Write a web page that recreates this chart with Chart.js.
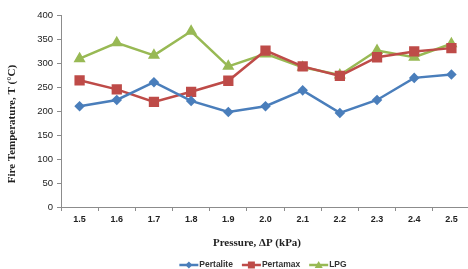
<!DOCTYPE html>
<html>
<head>
<meta charset="utf-8">
<script src="https://cdn.jsdelivr.net/npm/chart.js@4/dist/chart.umd.min.js"></script>
<style>
  html, body { margin: 0; padding: 0; overflow: hidden; background: #fff; }
  #wrap { width: 478px; height: 269px; }
</style>
</head>
<body>
<div id="wrap"><canvas id="chart"></canvas></div>
<script>
// Data
const pressures = ['1.5', '1.6', '1.7', '1.8', '1.9', '2.0', '2.1', '2.2', '2.3', '2.4', '2.5'];
const pertalite = [210, 223, 260, 221, 198, 210, 243, 196, 223, 269, 276];
const pertamax  = [264, 245, 219, 240, 263, 326, 293, 273, 312, 324, 331];
const lpg       = [309, 342, 316, 366, 293, 319, 291, 275, 326, 312, 340];

const xTitle = 'Pressure, \u0394P (kPa)';
const yTitle = 'Fire Temperature, T (\u00B0C)';

const BLUE = '#4a7ebb';
const RED = '#be4b48';
const GREEN = '#98b954';
const AXIS = '#8c8c8c';

// axis titles and legend drawn Excel-style (line + marker)
const excelDecor = {
    id: 'excelDecor',
    afterDraw(chart) {
        const ctx = chart.ctx;
        ctx.save();
        ctx.fillStyle = '#222';
        ctx.textAlign = 'center';
        ctx.textBaseline = 'middle';
        ctx.font = 'bold 11px "Liberation Serif"';
        ctx.fillText(xTitle, 257, 243);
        ctx.save();
        ctx.translate(12, 124);
        ctx.rotate(-Math.PI / 2);
        ctx.fillText(yTitle, 0, 0);
        ctx.restore();

        // legend
        ctx.font = 'bold 8.5px "Liberation Sans"';
        ctx.textAlign = 'left';
        const lineLen = 19, gap = 1, itemGap = 9;
        const items = chart.data.datasets;
        let total = 0;
        items.forEach((ds, i) => {
            total += lineLen + gap + ctx.measureText(ds.label).width;
            if (i < items.length - 1) total += itemGap;
        });
        let x = 263 - total / 2;
        const y = 265;
        items.forEach(ds => {
            ctx.strokeStyle = ds.borderColor;
            ctx.fillStyle = ds.borderColor;
            ctx.lineWidth = 2.5;
            ctx.beginPath();
            ctx.moveTo(x, y);
            ctx.lineTo(x + lineLen, y);
            ctx.stroke();
            const cx = x + lineLen / 2;
            ctx.beginPath();
            if (ds.pointStyle === 'rect') {
                ctx.rect(cx - 3.5, y - 3.5, 7, 7);
            } else if (ds.pointStyle === 'triangle') {
                ctx.moveTo(cx, y - 4);
                ctx.lineTo(cx + 4, y + 3);
                ctx.lineTo(cx - 4, y + 3);
                ctx.closePath();
            } else {
                ctx.moveTo(cx, y - 3.5);
                ctx.lineTo(cx + 3.5, y);
                ctx.lineTo(cx, y + 3.5);
                ctx.lineTo(cx - 3.5, y);
                ctx.closePath();
            }
            ctx.fill();
            x += lineLen + gap;
            ctx.fillStyle = '#333';
            ctx.fillText(ds.label, x, y);
            x += ctx.measureText(ds.label).width + itemGap;
        });
        ctx.restore();
    }
};

const ctx = document.getElementById('chart').getContext('2d');
new Chart(ctx, {
    type: 'line',
    data: {
        labels: pressures,
        datasets: [{
            label: 'Pertalite',
            data: pertalite,
            borderColor: BLUE,
            backgroundColor: BLUE,
            borderWidth: 2.5,
            pointStyle: 'rectRot',
            pointRadius: 3.5,
            pointHoverRadius: 3.5,
            tension: 0
        }, {
            label: 'Pertamax',
            data: pertamax,
            borderColor: RED,
            backgroundColor: RED,
            borderWidth: 2.5,
            pointStyle: 'rect',
            pointRadius: 5.5,
            pointHoverRadius: 5.5,
            tension: 0
        }, {
            label: 'LPG',
            data: lpg,
            borderColor: GREEN,
            backgroundColor: GREEN,
            borderWidth: 2.5,
            pointStyle: 'triangle',
            pointRadius: 4.5,
            pointHoverRadius: 4.5,
            tension: 0
        }]
    },
    options: {
        responsive: true,
        maintainAspectRatio: false,
        animation: false,
        layout: {
            padding: { left: 0, right: 1, top: 15, bottom: 0 }
        },
        plugins: {
            legend: { display: false },
            tooltip: { enabled: false }
        },
        scales: {
            x: {
                offset: true,
                grid: {
                    offset: true,
                    drawOnChartArea: false,
                    drawTicks: true,
                    tickLength: 4,
                    color: AXIS
                },
                border: { color: AXIS, width: 1 },
                ticks: {
                    padding: 3,
                    color: '#222',
                    font: { family: 'Liberation Sans', size: 9, weight: 'bold' },
                    maxRotation: 0
                },
                afterFit(scale) {
                    scale.height = 62;
                }
            },
            y: {
                min: 0,
                max: 400,
                ticks: {
                    stepSize: 50,
                    padding: 4,
                    color: '#222',
                    font: { family: 'Liberation Sans', size: 9.5 }
                },
                grid: {
                    drawOnChartArea: false,
                    drawTicks: true,
                    tickLength: 4,
                    color: AXIS
                },
                border: { color: AXIS, width: 1 },
                afterFit(scale) {
                    scale.width = 61;
                }
            }
        }
    },
    plugins: [excelDecor]
});
</script>
</body>
</html>
